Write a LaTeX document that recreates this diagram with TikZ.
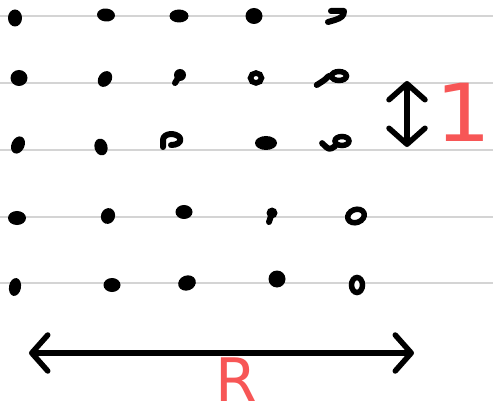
\documentclass[tikz,border=0pt]{standalone}
\usepackage{fontspec}
\setmainfont{DejaVu Sans}
\usetikzlibrary{arrows.meta, shapes.geometric}
\definecolor{inkred}{HTML}{F75656}
\definecolor{rulec}{HTML}{D4D4D4}
\tikzset{
  dab/.style={ellipse, fill=black, inner sep=0pt},
  loopdab/.style={ellipse, draw=black, fill=white, line width=5.5pt, inner sep=0pt},
  stroke/.style={line width=6pt, line cap=round, line join=round},
  rule/.style={rulec, line width=1.2pt},
  span/.style={line width=5.5pt, line cap=round,
    {Straight Barb[length=16pt, width=36pt, round]}-{Straight Barb[length=16pt, width=36pt, round]}},
  inklabel/.style={inkred, inner sep=0pt}
}
% filled blob: name, position, width, height, angle
\newcommand{\dab}[5]{%
  \node[dab, minimum width=#3pt, minimum height=#4pt, rotate=#5] (#1) at #2 {};
}
% ring-like blob: name, position, width, height, angle
\newcommand{\loopdab}[5]{%
  \node[loopdab, minimum width=#3pt, minimum height=#4pt, rotate=#5] (#1) at #2 {};
}

\begin{document}
\begin{tikzpicture}[x=1pt, y=-1pt]
  \useasboundingbox (0,0) rectangle (493,409);
  \foreach \y in {16,83,150,217,283} \draw[rule] (0,\y) -- (493,\y);

  % row 1
  \dab{d11}{(15,18)}{14}{17}{0}
  \dab{d12}{(106,15)}{18}{13}{-5}
  \dab{d13}{(179,16)}{19}{13}{0}
  \dab{d14}{(254,16)}{17}{16}{0}
  \coordinate (d15) at (336,16);
  \draw[stroke] (d15) ++(-5,-5) -- ++(13,0) .. controls ++(0,5) and ++(6,-2) .. ++(-9,9) -- ++(-7,2);
  % row 2
  \dab{d21}{(19,78)}{17}{16}{0}
  \dab{d22}{(105,79)}{13}{17}{-35}
  \dab{d23}{(180,75)}{12}{12}{0}
  \draw[stroke] (d23.center) -- ++(-5,8);
  \loopdab{d24}{(256,78)}{11}{10}{0}
  \loopdab{d25}{(339,76)}{15}{9}{0}
  \draw[stroke] (d25.west) .. controls ++(-4,4) .. ++(-12,9);
  % row 3
  \dab{d31}{(18,145)}{13}{18}{-25}
  \dab{d32}{(101,147)}{13}{17}{15}
  \coordinate (d33) at (172,141);
  \draw[stroke] (d33) ++(-9,6) -- ++(0,-7) .. controls ++(0,-7) and ++(-4,-6) .. ++(17,-2)
    .. controls ++(2,5) and ++(5,0) .. ++(-9,7);
  \dab{d34}{(266,143)}{22}{14}{0}
  \loopdab{d35}{(342,141)}{14}{9}{0}
  \draw[stroke] (d35.south west) .. controls ++(-6,4) .. ++(-13,-3);
  % row 4
  \dab{d41}{(17,218)}{18}{14}{0}
  \dab{d42}{(108,216)}{14}{16}{-20}
  \dab{d43}{(184,212)}{17}{14}{0}
  \dab{d44}{(272,213)}{11}{11}{0}
  \draw[stroke] (d44.center) -- ++(-3,9);
  \loopdab{d45}{(356,216)}{17}{13}{20}
  % row 5
  \dab{d51}{(15,287)}{12}{18}{-10}
  \dab{d52}{(112,285)}{17}{14}{0}
  \dab{d53}{(187,283)}{18}{15}{20}
  \dab{d54}{(277,279)}{17}{17}{0}
  \loopdab{d55}{(357,285)}{11}{15}{0}

  % unit arrow and label
  \coordinate (ut) at (407,81);
  \coordinate (ub) at (407,147);
  \draw[span] (ut) -- (ub);
  \node[inklabel, xscale=1.1, font=\fontsize{80}{80}\selectfont] (one) at (463,112) {1};

  % span arrow and label
  \coordinate (sl) at (29,353);
  \coordinate (sr) at (414,353);
  \draw[span] (sl) -- (sr);
  \node[inklabel, font=\fontsize{60}{60}\selectfont] (rlab) at (236,380) {R};
\end{tikzpicture}
\end{document}
